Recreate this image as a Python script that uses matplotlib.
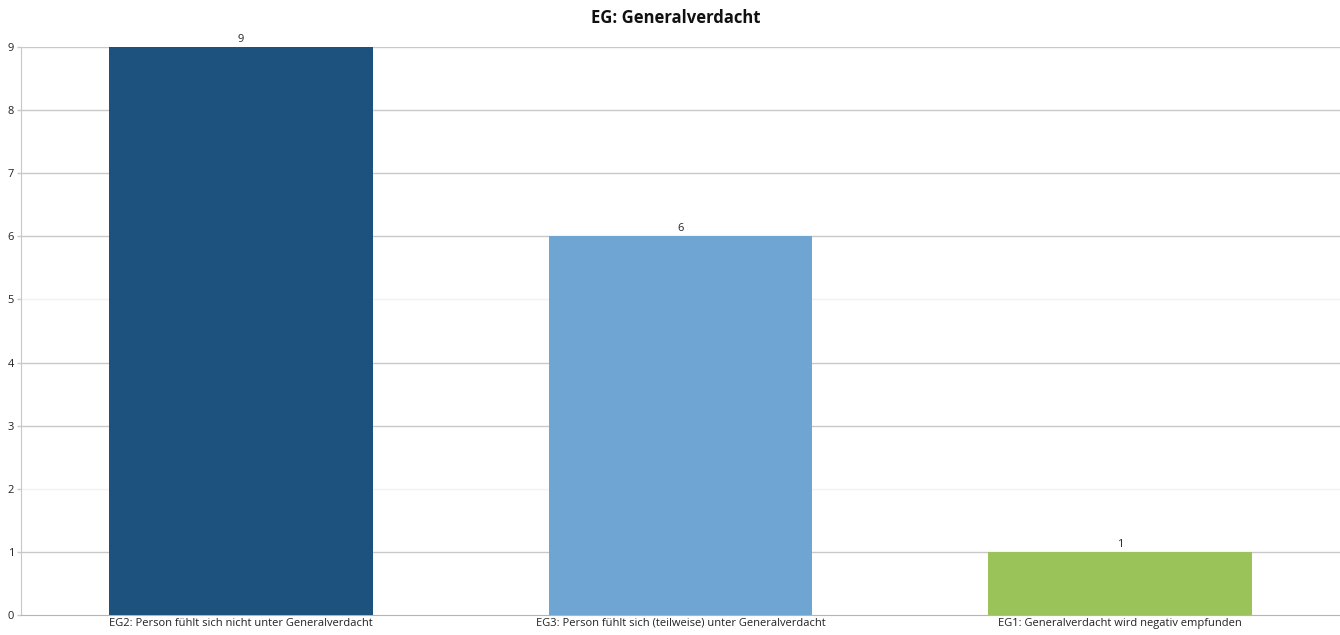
import matplotlib
matplotlib.use("Agg")
import matplotlib.pyplot as plt

categories = [
    "EG2: Person fühlt sich nicht unter Generalverdacht",
    "EG3: Person fühlt sich (teilweise) unter Generalverdacht",
    "EG1: Generalverdacht wird negativ empfunden",
]
counts = [9, 6, 1]
bar_colors = ["#1e527e", "#6fa5d2", "#9ac45a"]
y_ticks = list(range(0, 10))
title = "EG: Generalverdacht"

plt.rcParams["font.family"] = ["Open Sans", "DejaVu Sans"]

fig = plt.figure(figsize=(13.4, 6.35), dpi=100)
ax = fig.add_axes([21 / 1340, 20 / 635, 1 - 21 / 1340, (615 - 47) / 635])

x = list(range(len(categories)))
bars = ax.bar(x, counts, width=0.6, color=bar_colors, zorder=3)
for b, v in zip(bars, counts):
    ax.text(b.get_x() + b.get_width() / 2, v + 0.03, str(v), ha="center",
            va="bottom", fontsize=8, color="#222222", zorder=4)

ax.set_xlim(-0.5, 2.5)
ax.set_ylim(0, 9)
ax.set_yticks(y_ticks)
ax.set_xticks(x)
ax.set_xticklabels(categories, fontsize=8, color="#222222")
ax.tick_params(axis="y", labelsize=8, colors="#222222", length=3, width=1,
               color="#c8c8c8", pad=2)
ax.tick_params(axis="x", length=0, pad=2)

# horizontal gridlines; the ones at 2 and 5 are drawn much fainter
for t in y_ticks[1:]:
    faint = t in (2, 5)
    ax.axhline(t, color="#f2f2f2" if faint else "#c8c8c8", lw=1, zorder=1)

for s in ("top", "right"):
    ax.spines[s].set_visible(False)
ax.spines["left"].set_color("#c8c8c8")
ax.spines["bottom"].set_color("#b4b4b4")

fig.text(676 / 1340, 1 - 18 / 635, title, ha="center", va="center",
         fontsize=12, fontweight="bold", color="#111111")

fig.savefig("out.png", dpi=100)
